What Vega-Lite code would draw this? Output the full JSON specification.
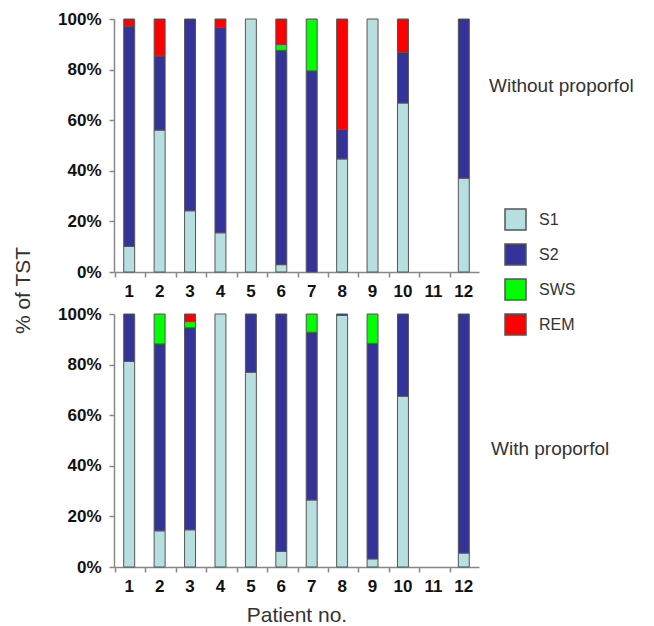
{
  "$schema": "https://vega.github.io/schema/vega-lite/v6.json",
  "padding": {"left": 12, "top": 10, "right": 5, "bottom": 5},
  "background": "white",
  "bounds": "flush",
  "spacing": 42,
  "config": {
    "font": "Liberation Sans",
    "view": {"stroke": null},
    "axis": {
      "domainColor": "#888888",
      "domainWidth": 1.5,
      "tickColor": "#888888",
      "tickWidth": 1.5,
      "tickSize": 5,
      "labelFont": "Liberation Sans",
      "labelFontWeight": "bold",
      "labelFontSize": 17,
      "labelColor": "#111111",
      "grid": false,
      "titleFont": "Liberation Sans",
      "titleFontWeight": "normal",
      "titleFontSize": 21,
      "titleColor": "#333333"
    },
    "title": {"font": "Liberation Sans", "fontWeight": "normal", "fontSize": 19, "color": "#333333"}
  },
  "datasets": {
    "without": [
      {"patient": 1, "S1": 10.1, "S2": 87.1, "SWS": 0, "REM": 2.8},
      {"patient": 2, "S1": 56.1, "S2": 29.3, "SWS": 0, "REM": 14.6},
      {"patient": 3, "S1": 24.2, "S2": 75.8, "SWS": 0, "REM": 0},
      {"patient": 4, "S1": 15.5, "S2": 81.2, "SWS": 0, "REM": 3.3},
      {"patient": 5, "S1": 100, "S2": 0, "SWS": 0, "REM": 0},
      {"patient": 6, "S1": 2.9, "S2": 84.7, "SWS": 2.3, "REM": 10.1},
      {"patient": 7, "S1": 0, "S2": 79.5, "SWS": 20.5, "REM": 0},
      {"patient": 8, "S1": 44.7, "S2": 11.7, "SWS": 0, "REM": 43.6},
      {"patient": 9, "S1": 100, "S2": 0, "SWS": 0, "REM": 0},
      {"patient": 10, "S1": 66.8, "S2": 20.0, "SWS": 0, "REM": 13.2},
      {"patient": 12, "S1": 37.1, "S2": 62.9, "SWS": 0, "REM": 0}
    ],
    "with": [
      {"patient": 1, "S1": 81.3, "S2": 18.7, "SWS": 0, "REM": 0},
      {"patient": 2, "S1": 14.3, "S2": 73.9, "SWS": 11.8, "REM": 0},
      {"patient": 3, "S1": 14.7, "S2": 79.9, "SWS": 2.4, "REM": 3.0},
      {"patient": 4, "S1": 100, "S2": 0, "SWS": 0, "REM": 0},
      {"patient": 5, "S1": 77.0, "S2": 23.0, "SWS": 0, "REM": 0},
      {"patient": 6, "S1": 6.2, "S2": 93.8, "SWS": 0, "REM": 0},
      {"patient": 7, "S1": 26.5, "S2": 66.3, "SWS": 7.2, "REM": 0},
      {"patient": 8, "S1": 99.5, "S2": 0.5, "SWS": 0, "REM": 0},
      {"patient": 9, "S1": 3.2, "S2": 85.2, "SWS": 11.6, "REM": 0},
      {"patient": 10, "S1": 67.5, "S2": 32.5, "SWS": 0, "REM": 0},
      {"patient": 12, "S1": 5.5, "S2": 94.5, "SWS": 0, "REM": 0}
    ]
  },
  "vconcat": [
    {
      "width": 365,
      "height": 253,
      "data": {"name": "without"},
      "title": {"text": "Without proporfol", "orient": "right", "angle": 0, "anchor": "start", "align": "right", "baseline": "middle", "offset": 10, "dy": 76},
      "transform": [
        {"fold": ["S1", "S2", "SWS", "REM"], "as": ["stage", "pct"]},
        {"filter": "datum.pct > 0"},
        {"calculate": "indexof(['S1','S2','SWS','REM'], datum.stage)", "as": "rank"}
      ],
      "mark": {"type": "bar", "width": {"band": 0.4}, "stroke": "#555555", "strokeWidth": 1},
      "encoding": {
        "x": {"field": "patient", "type": "ordinal", "scale": {"domain": [1,2,3,4,5,6,7,8,9,10,11,12]},
              "axis": {"title": null, "labelAngle": 0, "bandPosition": 0, "labelPadding": 6}},
        "y": {"field": "pct", "type": "quantitative", "stack": "zero", "scale": {"domain": [0, 100], "nice": false},
              "axis": {"values": [0, 20, 40, 60, 80, 100], "labelExpr": "datum.value + '%'", "labelPadding": 8,
                       "title": "% of TST", "titleY": 271, "titleX": -81, "titleAngle": -90, "titleAlign": "center", "titleBaseline": "bottom"}},
        "color": {"field": "stage", "type": "nominal",
                  "scale": {"domain": ["S1", "S2", "SWS", "REM"], "range": ["#b8dfe0", "#333399", "#00ff00", "#ff0000"]},
                  "legend": {"title": null, "orient": "none", "legendX": 390, "legendY": 189, "symbolType": "square", "symbolSize": 441,
                             "symbolStrokeColor": "#222222", "symbolStrokeWidth": 1.5, "symbolOpacity": 1, "labelFontSize": 16, "labelColor": "#333333",
                             "labelFont": "Liberation Sans", "rowPadding": 8, "labelOffset": 12}},
        "order": {"field": "rank", "type": "quantitative"}
      }
    },
    {
      "width": 365,
      "height": 253,
      "data": {"name": "with"},
      "title": {"text": "With proporfol", "orient": "right", "angle": 0, "anchor": "start", "align": "right", "baseline": "middle", "offset": 12, "dy": 144},
      "transform": [
        {"fold": ["S1", "S2", "SWS", "REM"], "as": ["stage", "pct"]},
        {"filter": "datum.pct > 0"},
        {"calculate": "indexof(['S1','S2','SWS','REM'], datum.stage)", "as": "rank"}
      ],
      "mark": {"type": "bar", "width": {"band": 0.4}, "stroke": "#555555", "strokeWidth": 1},
      "encoding": {
        "x": {"field": "patient", "type": "ordinal", "scale": {"domain": [1,2,3,4,5,6,7,8,9,10,11,12]},
              "axis": {"title": "Patient no.", "labelAngle": 0, "bandPosition": 0, "labelPadding": 6, "titlePadding": 10}},
        "y": {"field": "pct", "type": "quantitative", "stack": "zero", "scale": {"domain": [0, 100], "nice": false},
              "axis": {"values": [0, 20, 40, 60, 80, 100], "labelExpr": "datum.value + '%'", "labelPadding": 8, "title": null}},
        "color": {"field": "stage", "type": "nominal",
                  "scale": {"domain": ["S1", "S2", "SWS", "REM"], "range": ["#b8dfe0", "#333399", "#00ff00", "#ff0000"]}},
        "order": {"field": "rank", "type": "quantitative"}
      }
    }
  ]
}
